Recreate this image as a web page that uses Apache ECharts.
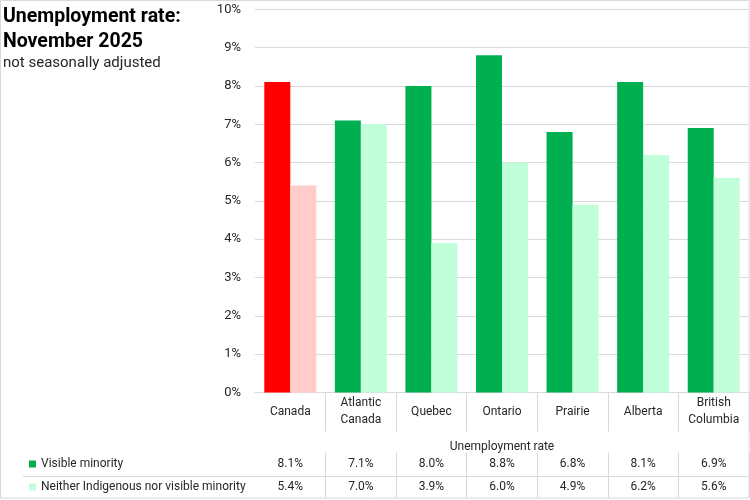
<!DOCTYPE html>
<html>
<head>
<meta charset="utf-8">
<script src="https://cdn.jsdelivr.net/npm/echarts@6/dist/echarts.min.js"></script>
<style>html,body{margin:0;padding:0;background:#fff}#c{width:750px;height:500px}</style>
</head>
<body>
<div id="c"></div>
<script>
const categories = ['Canada', 'Atlantic\nCanada', 'Quebec', 'Ontario', 'Prairie', 'Alberta', 'British\nColumbia'];
const visibleMinority = [8.1, 7.1, 8.0, 8.8, 6.8, 8.1, 6.9];
const neitherIndigenous = [5.4, 7.0, 3.9, 6.0, 4.9, 6.2, 5.6];
const seriesNames = ['Visible minority', 'Neither Indigenous nor visible minority'];
const yTicks = [0, 1, 2, 3, 4, 5, 6, 7, 8, 9, 10];

const FONT = 'Roboto';
const TXT = '#262626';
const GRID = '#D9D9D9';
const colors = { vm: '#00B050', ne: '#C0FFDA', vmCanada: '#FF0000', neCanada: '#FFCCCC' };

const chart = echarts.init(document.getElementById('c'), null, { renderer: 'canvas' });
const fmt = v => v.toFixed(1) + '%';
const hideFirst = i => i !== 0;

chart.setOption({
  animation: false,
  textStyle: { fontFamily: FONT },
  title: {
    text: 'Unemployment rate:\nNovember 2025',
    subtext: 'not seasonally adjusted',
    left: 3, top: 4.5, padding: 0, itemGap: 0,
    textStyle: { fontFamily: FONT, fontSize: 19.5, fontWeight: 'bold', color: '#000', lineHeight: 25 },
    subtextStyle: { fontFamily: FONT, fontSize: 15, color: TXT, lineHeight: 18 }
  },
  legend: {
    orient: 'vertical', left: 29, top: 457, padding: 0, itemWidth: 7, itemHeight: 7, itemGap: 9,
    icon: 'rect', selectedMode: false,
    textStyle: { fontFamily: FONT, fontSize: 12, color: TXT, lineHeight: 14 },
    data: seriesNames
  },
  grid: { left: 255, right: 1, top: 9.3, bottom: 107.5, containLabel: false },
  xAxis: [
    {
      type: 'category', data: categories, position: 'bottom',
      axisLine: { show: true, lineStyle: { color: GRID } },
      axisTick: { show: true, length: 39, interval: hideFirst, lineStyle: { color: GRID } },
      axisLabel: { interval: 0, margin: 19, verticalAlign: 'middle', fontFamily: FONT, fontSize: 12, color: TXT, lineHeight: 17 },
      name: 'Unemployment rate', nameLocation: 'middle', nameGap: 48,
      nameTextStyle: { fontFamily: FONT, fontSize: 12, color: TXT }
    },
    {
      type: 'category', data: categories, position: 'bottom', offset: 60,
      axisLine: { show: false },
      axisTick: { show: true, length: 45, interval: hideFirst, lineStyle: { color: GRID } },
      axisLabel: { interval: 0, margin: 11.5, verticalAlign: 'middle', fontFamily: FONT, fontSize: 12, color: TXT,
        formatter: (v, i) => fmt(visibleMinority[i]) }
    },
    {
      type: 'category', data: categories, position: 'bottom', offset: 84,
      axisLine: { show: false },
      axisTick: { show: false },
      axisLabel: { interval: 0, margin: 10.5, verticalAlign: 'middle', fontFamily: FONT, fontSize: 12, color: TXT,
        formatter: (v, i) => fmt(neitherIndigenous[i]) }
    }
  ],
  yAxis: {
    type: 'value', min: yTicks[0], max: yTicks[yTicks.length - 1], interval: 1,
    axisLine: { show: false }, axisTick: { show: false },
    splitLine: { lineStyle: { color: GRID } },
    axisLabel: { margin: 14, fontFamily: FONT, fontSize: 13, color: TXT, formatter: '{value}%' }
  },
  series: [
    {
      name: seriesNames[0], type: 'bar', xAxisIndex: 0, barWidth: 26, barGap: '0%',
      itemStyle: { color: colors.vm },
      data: visibleMinority.map((v, i) => i === 0 ? { value: v, itemStyle: { color: colors.vmCanada } } : v)
    },
    {
      name: seriesNames[1], type: 'bar', xAxisIndex: 0, barWidth: 26, barGap: '0%',
      itemStyle: { color: colors.ne },
      data: neitherIndigenous.map((v, i) => i === 0 ? { value: v, itemStyle: { color: colors.neCanada } } : v)
    }
  ],
  graphic: [
    { type: 'rect', silent: true, z: 100, shape: { x: 0.5, y: 0.5, width: 748.5, height: 497.5 },
      style: { fill: 'none', stroke: GRID, lineWidth: 1 } },
    { type: 'line', silent: true, shape: { x1: 23, y1: 476.5, x2: 749, y2: 476.5 },
      style: { stroke: GRID, lineWidth: 1 } }
  ]
});
</script>
</body>
</html>
